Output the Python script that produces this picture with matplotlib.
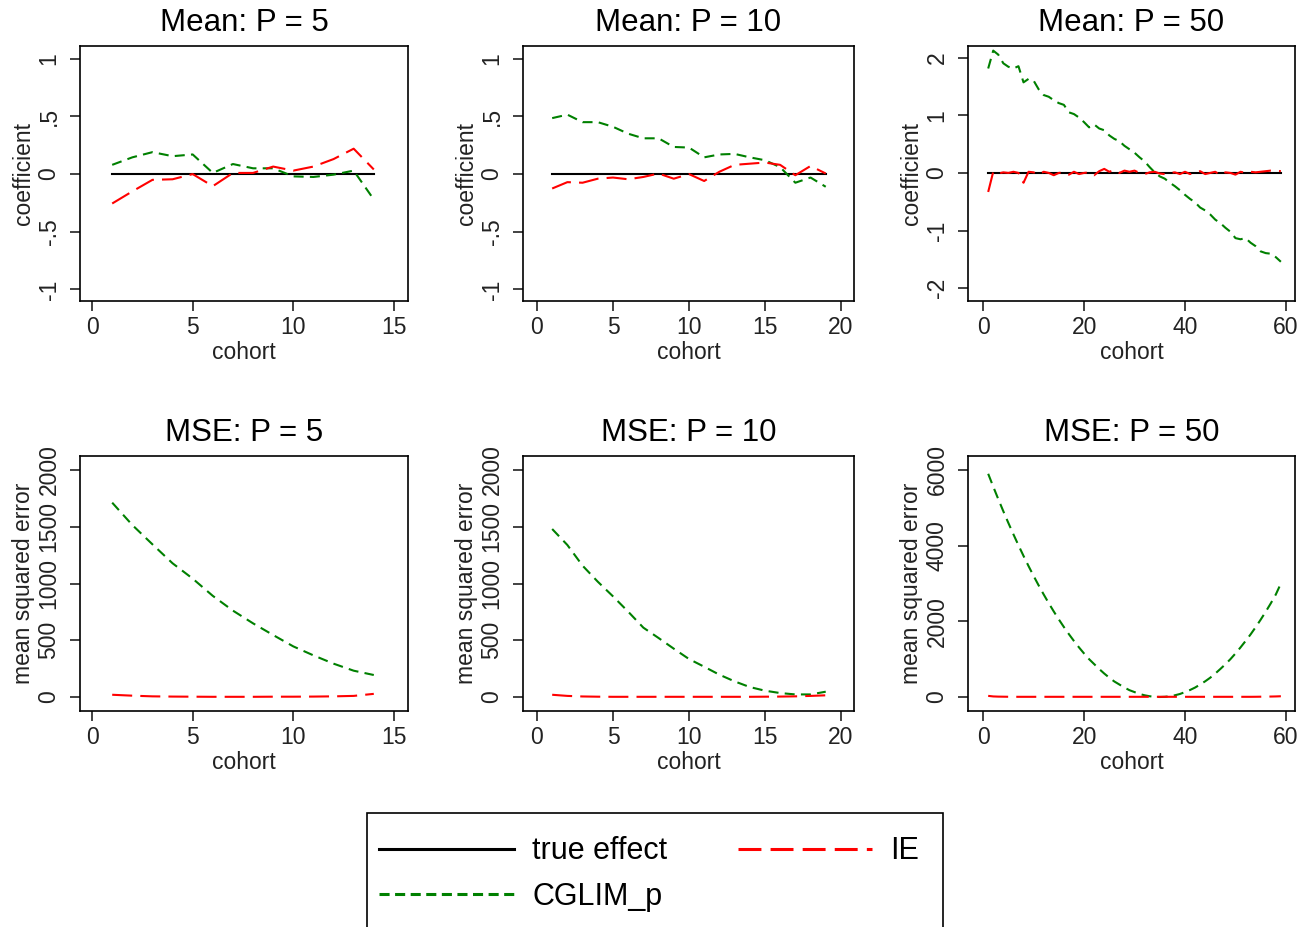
import numpy as np
import matplotlib.pyplot as plt
from matplotlib.patches import Rectangle

plt.rcParams['font.family'] = ['Liberation Sans', 'DejaVu Sans']

# ---- data ----
cohort5 = list(range(1, 15))
cohort10 = list(range(1, 20))
cohort50 = list(range(1, 60))

mean_cglim5 = [0.08, 0.145, 0.19, 0.155, 0.17, 0.01, 0.087, 0.05, 0.05, -0.02,
               -0.025, -0.005, 0.03, -0.22]
mean_ie5 = [-0.255, -0.15, -0.05, -0.045, 0.0, -0.105, 0.01, 0.01, 0.065, 0.03,
            0.065, 0.13, 0.22, 0.04]

mean_cglim10 = [0.485, 0.515, 0.45, 0.45, 0.41, 0.35, 0.31, 0.31, 0.235, 0.23,
                0.145, 0.17, 0.175, 0.145, 0.12, 0.06, -0.075, -0.03, -0.11]
mean_ie10 = [-0.125, -0.07, -0.075, -0.04, -0.03, -0.045, -0.025, 0.005, -0.04, 0.0,
             -0.06, 0.02, 0.08, 0.09, 0.1, 0.08, -0.01, 0.07, 0.005]

mean_cglim50 = [1.81, 2.12, 2.05, 1.9, 1.84, 1.81, 1.85, 1.57, 1.63, 1.6,
                1.45, 1.35, 1.32, 1.26, 1.21, 1.18, 1.05, 1.02, 0.96, 0.88,
                0.79, 0.84, 0.77, 0.74, 0.65, 0.59, 0.55, 0.47, 0.41, 0.35,
                0.27, 0.2, 0.1, 0.01, -0.06, -0.1, -0.17, -0.23, -0.3, -0.38,
                -0.45, -0.51, -0.6, -0.65, -0.72, -0.81, -0.87, -0.95, -1.02, -1.13,
                -1.15, -1.13, -1.21, -1.27, -1.36, -1.39, -1.4, -1.46, -1.54]
mean_ie50 = [-0.33, 0.02, -0.01, 0.01, 0.0, 0.02, 0.0, -0.17, 0.02, 0.01,
             -0.03, 0.02, 0.0, -0.04, 0.0, 0.01, -0.03, 0.02, -0.02, 0.0,
             0.01, -0.04, 0.03, 0.07, 0.02, 0.05, 0.0, 0.04, 0.02, 0.04,
             0.0, -0.02, 0.01, 0.02, -0.01, -0.02, 0.0, 0.01, -0.02, 0.02,
             -0.02, 0.01, 0.03, -0.02, 0.0, 0.02, -0.04, 0.01, 0.0, -0.03,
             0.02, 0.0, 0.02, 0.01, 0.02, 0.03, 0.04, 0.04, 0.03]

mse_cglim5 = [1712, 1515, 1345, 1178, 1043, 891, 761, 649, 546, 446,
              367, 294, 232, 194]
mse_ie5 = [20, 12, 6, 4, 3, 2, 2, 2, 3, 3, 4, 6, 10, 28]

mse_cglim10 = [1480, 1339, 1157, 1016, 887, 752, 611, 520, 426, 335,
               267, 197, 138, 88, 56, 35, 23, 23, 47]
mse_ie10 = [20, 10, 5, 3, 2, 2, 2, 2, 2, 2, 2, 2, 2, 2, 3, 4, 6, 10, 15]

mse_cglim50 = [5900, 5560, 5230, 4910, 4600, 4300, 4010, 3730, 3460, 3200,
               2950, 2710, 2480, 2260, 2050, 1850, 1660, 1480, 1310, 1150,
               1000, 870, 740, 620, 510, 410, 330, 250, 180, 130,
               80, 45, 20, 5, 0, 5, 20, 45, 80, 130,
               185, 250, 330, 415, 510, 620, 740, 865, 1000, 1150,
               1310, 1480, 1655, 1845, 2045, 2255, 2475, 2710, 3000]
mse_ie50 = [30, 15, 10, 8, 6, 5, 5, 5, 5, 5, 5, 5, 5, 5, 5, 5, 5, 5, 5, 5,
            5, 5, 5, 5, 5, 5, 5, 5, 5, 5, 5, 5, 5, 5, 5, 5, 5, 5, 5, 5,
            5, 5, 5, 5, 5, 5, 5, 5, 5, 5, 5, 5, 5, 6, 8, 10, 12, 15, 20]

# ---- figure ----
fig = plt.figure(figsize=(13.03, 9.27), dpi=100)
W, H = 1303, 927

def box(l, t, r, b):
    return [l / W, 1 - b / H, (r - l) / W, (b - t) / H]

green_dash = (0, (4.8, 3.0))
red_dash = (0, (9.6, 3.9))

panels = [
    # position, x, cglim, ie, title, xlim, xticks, ylim, yticks, yticklabels, ylabel, mean?
    (box(80, 46, 408, 301), cohort5, mean_cglim5, mean_ie5, 'Mean: P = 5',
     (-0.6, 15.7), [0, 5, 10, 15], (-1.1, 1.11), [-1, -0.5, 0, 0.5, 1],
     ['-1', '-.5', '0', '.5', '1'], 'coefficient', True),
    (box(523, 46, 854, 301), cohort10, mean_cglim10, mean_ie10, 'Mean: P = 10',
     (-0.92, 20.86), [0, 5, 10, 15, 20], (-1.1, 1.11), [-1, -0.5, 0, 0.5, 1],
     ['-1', '-.5', '0', '.5', '1'], 'coefficient', True),
    (box(968, 46, 1295, 301), cohort50, mean_cglim50, mean_ie50, 'Mean: P = 50',
     (-3.0, 61.8), [0, 20, 40, 60], (-2.22, 2.2), [-2, -1, 0, 1, 2],
     ['-2', '-1', '0', '1', '2'], 'coefficient', True),
    (box(80, 456, 408, 711), cohort5, mse_cglim5, mse_ie5, 'MSE: P = 5',
     (-0.6, 15.7), [0, 5, 10, 15], (-123, 2123), [0, 500, 1000, 1500, 2000],
     ['0', '500', '1000', '1500', '2000'], 'mean squared error', False),
    (box(523, 456, 854, 711), cohort10, mse_cglim10, mse_ie10, 'MSE: P = 10',
     (-0.92, 20.86), [0, 5, 10, 15, 20], (-123, 2123), [0, 500, 1000, 1500, 2000],
     ['0', '500', '1000', '1500', '2000'], 'mean squared error', False),
    (box(968, 456, 1295, 711), cohort50, mse_cglim50, mse_ie50, 'MSE: P = 50',
     (-3.0, 61.8), [0, 20, 40, 60], (-370, 6370), [0, 2000, 4000, 6000],
     ['0', '2000', '4000', '6000'], 'mean squared error', False),
]

for pos, x, cg, ie, title, xlim, xt, ylim, yt, ytl, ylab, is_mean in panels:
    ax = fig.add_axes(pos)
    if is_mean:
        ax.plot([x[0], x[-1]], [0, 0], color='black', lw=1.5)
    ax.plot(x, cg, color='green', lw=1.5, linestyle=green_dash)
    ax.plot(x, ie, color='red', lw=1.5, linestyle=red_dash)
    ax.set_xlim(*xlim)
    ax.set_ylim(*ylim)
    ax.set_xticks(xt)
    ax.set_yticks(yt)
    ax.set_yticklabels(ytl, rotation=90, va='center')
    ax.tick_params(direction='out', length=7, width=1.2, labelsize=16.5,
                   colors='#222222', pad=4)
    ax.tick_params(axis='y', pad=7)
    for s in ax.spines.values():
        s.set_linewidth(1.2)
    ax.set_title(title, fontsize=22.5, pad=11)
    ax.set_xlabel('cohort', fontsize=16.5, labelpad=1, color='#222222')
    ax.set_ylabel(ylab, fontsize=16.5, labelpad=2, color='#222222')

# legend
h_true, = plt.plot([], [], color='black', lw=2.2)
h_cg, = plt.plot([], [], color='green', lw=2.2, linestyle=(0, (3.3, 1.8)))
h_ie, = plt.plot([], [], color='red', lw=2.2, linestyle=(0, (7.5, 3.0)))
leg = fig.legend([h_true, h_cg, h_ie], ['true effect', 'CGLIM_p', 'IE'],
                 loc='upper left', bbox_to_anchor=(355 / W, 1 - 812 / H),
                 ncol=2, fontsize=22, handlelength=4.4, handletextpad=0.6,
                 columnspacing=2.3, labelspacing=0.5, borderpad=0.3,
                 frameon=False)
fig.patches.append(Rectangle((367 / W, -0.02), (943 - 367) / W, 1 - 813 / H + 0.02,
                             transform=fig.transFigure, fill=False,
                             edgecolor='black', lw=1.2))

fig.savefig('out.png', dpi=100)
